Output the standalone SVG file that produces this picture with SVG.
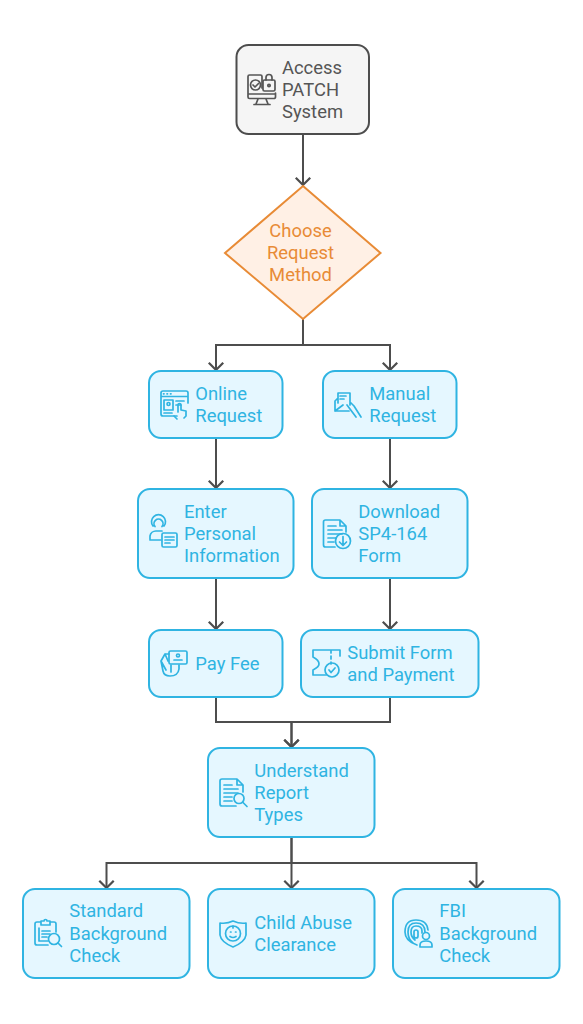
<svg xmlns="http://www.w3.org/2000/svg" width="583" height="1024" viewBox="0 0 583 1024">
<style>
.n{fill:#e5f7ff;stroke:#2fb4e2;stroke-width:2}
.t{font-family:Roboto,"Liberation Sans",sans-serif;font-size:18.4px;fill:#2fb4e2}
.c{fill:none;stroke:#4d4d4d;stroke-width:2}
.i{fill:none;stroke:#2fb4e2;stroke-width:1.7;stroke-linecap:round;stroke-linejoin:round}
.g{stroke:#555}
</style>
<defs>
<marker id="a" markerUnits="userSpaceOnUse" markerWidth="16" markerHeight="10" refX="7" refY="8" viewBox="0 0 14 9" overflow="visible"><path d="M0.500 1.500L7 8L13.500 1.500" fill="none" stroke="#4d4d4d" stroke-width="2"/></marker>
</defs>
<rect width="583" height="1024" fill="#fff"/>
<g id="connectors">
<path class="c" d="M303 134V185" marker-end="url(#a)"/>
<path class="c" d="M303 319V345H216V370" marker-end="url(#a)"/>
<path class="c" d="M303 319V345H390V370" marker-end="url(#a)"/>
<path class="c" d="M216 438V488" marker-end="url(#a)"/>
<path class="c" d="M390 438V488" marker-end="url(#a)"/>
<path class="c" d="M216 578V629" marker-end="url(#a)"/>
<path class="c" d="M390 578V629" marker-end="url(#a)"/>
<path class="c" d="M216 697V722H291.500V747" marker-end="url(#a)"/>
<path class="c" d="M390 697V722H291.500V747" marker-end="url(#a)"/>
<path class="c" d="M291.500 837V863H106.500V888" marker-end="url(#a)"/>
<path class="c" d="M291.500 837V888" marker-end="url(#a)"/>
<path class="c" d="M291.500 863H476.500V888" marker-end="url(#a)"/>
</g>
<g id="access">
<rect x="236.500" y="45" width="132.500" height="89" rx="12" fill="#f5f5f5" stroke="#4d4d4d" stroke-width="2"/>
<g class="i g"><path d="M262 88V76.500a1.500 1.500 0 0 0-1.500-1.500H249.500a1.500 1.500 0 0 0-1.500 1.500V97a1.500 1.500 0 0 0 1.500 1.500H274a1.500 1.500 0 0 0 1.500-1.500V93M248 94H275M258 99L256 104M266 99L268 104M254 104.500H270"/><circle cx="255.500" cy="85" r="5"/><path d="M253 85L255 87L258.500 83.500"/><rect x="263" y="80" width="12" height="11" rx="1.500"/><path d="M266 80V77.500a3 3 0 0 1 6 0V80"/><circle cx="269" cy="85.500" r="1.200"/></g>
<text class="t" x="282" y="74" style="fill:#555">Access</text>
<text class="t" x="282" y="96" style="fill:#555">PATCH</text>
<text class="t" x="282" y="118" style="fill:#555">System</text>
</g>
<g id="choose">
<polygon points="303,186 380.500,253 303,319 225,253" fill="#fff0e5" stroke="#e88b36" stroke-width="2"/>
<text class="t" x="300.500" y="236.500" text-anchor="middle" style="fill:#e88b36">Choose</text>
<text class="t" x="300.500" y="259" text-anchor="middle" style="fill:#e88b36">Request</text>
<text class="t" x="300.500" y="281" text-anchor="middle" style="fill:#e88b36">Method</text>
</g>
<g id="online">
<rect class="n" x="149" y="371" width="133.500" height="67" rx="12"/>
<g class="i"><path d="M177 416H163a2 2 0 0 1-2-2V393a2 2 0 0 1 2-2H186a2 2 0 0 1 2 2V403M161 396.500H188M176 401H184M176 405H181M163.500 393.800H164M167 393.800H167.500M170.500 393.800H171"/><rect x="164" y="400" width="9" height="10"/><circle cx="168.500" cy="404" r="1.500"/><path d="M164 413H172M174 416L177 419M178 412V405a1.500 1.500 0 0 1 3 0V410L186 411V416L184 418"/></g>
<text class="t" x="195.300" y="399.500">Online</text>
<text class="t" x="195.300" y="421.500">Request</text>
</g>
<g id="manual">
<rect class="n" x="323" y="371" width="133.500" height="67" rx="12"/>
<g class="i"><path d="M338 403V393H350V405M335 401V411H349M335 401L338 398M335 411L343 405M340 396H346M340 399H344M350 402L354 406L361 417M347 405L353 413L356 417"/></g>
<text class="t" x="369.300" y="399.500">Manual</text>
<text class="t" x="369.300" y="421.500">Request</text>
</g>
<g id="enter">
<rect class="n" x="138" y="489" width="155.500" height="89" rx="12"/>
<g class="i"><path d="M150 539.500V536a6 6 0 0 1 6-5H162M153 526a7 7 0 1 1 11 0M155 526.500a4.500 4.500 0 1 1 7 0M150 540H161"/><rect x="162" y="533" width="15" height="14" rx="1.500"/><path d="M165 537H174M165 540H174M165 543H170"/></g>
<text class="t" x="184" y="518">Enter</text>
<text class="t" x="184" y="540">Personal</text>
<text class="t" x="184" y="562">Information</text>
</g>
<g id="download">
<rect class="n" x="312" y="489" width="155.500" height="89" rx="12"/>
<g class="i"><path d="M335 547H325.500a2 2 0 0 1-2-2V522a2 2 0 0 1 2-2H340L346 526V532M340 520V526H346M328 526H336M328 530H342M328 534H342M328 538H336M328 542H334"/><circle cx="343" cy="541" r="7.500"/><path d="M343 536.500V545M339.500 542L343 545.500L346.500 542"/></g>
<text class="t" x="358.300" y="518">Download</text>
<text class="t" x="358.300" y="540">SP4-164</text>
<text class="t" x="358.300" y="562">Form</text>
</g>
<g id="pay">
<rect class="n" x="149" y="630" width="133.500" height="67" rx="12"/>
<g class="i"><rect x="169" y="651" width="18" height="13" rx="1.500"/><circle cx="178" cy="655.500" r="1.500"/><path d="M174 660H182M169 654L165 654L161 661L163 671Q164 676 170 676Q178 676 179 669V665M165 654L168 661M161 661L166 670M171 672V665"/></g>
<text class="t" x="195.300" y="669.500">Pay Fee</text>
</g>
<g id="submit">
<rect class="n" x="301" y="630" width="177.500" height="67" rx="12"/>
<g class="i"><path d="M313 650H340V656M313 650V657Q319 660 319 664Q319 667 313 670V675H326M331 650V653M331 656V659M331 662V664"/><circle cx="332" cy="670" r="7"/><path d="M329 670L331 672.500L335 668"/></g>
<text class="t" x="347.300" y="658.500">Submit Form</text>
<text class="t" x="347.300" y="680.500">and Payment</text>
</g>
<g id="understand">
<rect class="n" x="208" y="748" width="166.500" height="89" rx="12"/>
<g class="i"><path d="M236 806H222a2 2 0 0 1-2-2V781a2 2 0 0 1 2-2H237L243 785V792M237 779V785H243M224 785H232M224 789H238M224 793H238M224 797H232M224 801H232"/><circle cx="239" cy="798.500" r="5"/><path d="M243 802.500L247 806.500"/></g>
<text class="t" x="254.300" y="777">Understand</text>
<text class="t" x="254.300" y="799">Report</text>
<text class="t" x="254.300" y="821">Types</text>
</g>
<g id="standard">
<rect class="n" x="23" y="889" width="166.500" height="89" rx="12"/>
<g class="i"><path d="M48 945H37a2 2 0 0 1-2-2V924a2 2 0 0 1 2-2H41M50 922H54a2 2 0 0 1 2 2V932M41 921H44a1.500 1.500 0 0 1 3 0H50V925H41ZM39 928V941H48M42 931H50M42 934H50M42 937H47"/><circle cx="54" cy="939" r="5.500"/><path d="M58 943L61.500 946.500"/></g>
<text class="t" x="69.300" y="917">Standard</text>
<text class="t" x="69.300" y="939.500">Background</text>
<text class="t" x="69.300" y="961.500">Check</text>
</g>
<g id="child">
<rect class="n" x="208" y="889" width="166.500" height="89" rx="12"/>
<g class="i"><path d="M233 921Q240 924 246 923V935Q245 942 233 947Q221 942 220 935V923Q227 924 233 921Z"/><circle cx="233" cy="933.500" r="7.500"/><path d="M230 936.500Q233 938.500 236 936.500M230.500 932H231M235.500 932H236M233 926V928"/></g>
<text class="t" x="254.300" y="929">Child Abuse</text>
<text class="t" x="254.300" y="951">Clearance</text>
</g>
<g id="fbi">
<rect class="n" x="393" y="889" width="166.500" height="89" rx="12"/>
<g class="i"><path d="M417 945Q405 941 405 932Q405 920 416 920Q427 920 428 930M413 943Q408 939 408 932Q408 923 416 923Q425 923 425 932M415 940Q411 937 411 932Q411 926 416 926Q422 926 422 931V933M416 930Q418 930 418 932V936Q418 938 416 938Q414 938 414 936V932Q414 930 416 930Z"/><circle cx="426" cy="936" r="3.500"/><path d="M420 947V945Q420 941 426 941Q432 941 432 945V947Z"/></g>
<text class="t" x="439.300" y="917">FBI</text>
<text class="t" x="439.300" y="939.500">Background</text>
<text class="t" x="439.300" y="961.500">Check</text>
</g>
</svg>
